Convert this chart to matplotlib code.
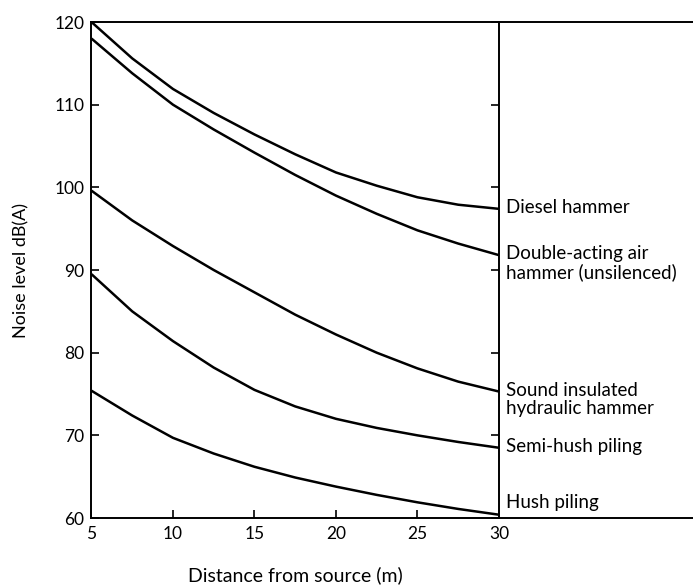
"""Noise level against distance from source for several piling methods."""

import matplotlib.pyplot as plt
from matplotlib.lines import Line2D

plt.rcParams["font.family"] = ["Lato", "DejaVu Sans"]

DISTANCE_M = [5, 7.5, 10, 12.5, 15, 17.5, 20, 22.5, 25, 27.5, 30]
DIESEL = [120, 115.6, 111.9, 109.0, 106.4, 104.0, 101.8, 100.2, 98.8, 97.9, 97.4]
DOUBLE_ACTING = [118, 113.8, 110.0, 107.0, 104.2, 101.5, 99.0, 96.8, 94.8, 93.2, 91.8]
SOUND_INSULATED = [99.6, 96.0, 92.9, 90.0, 87.3, 84.6, 82.2, 80.0, 78.1, 76.5, 75.3]
SEMI_HUSH = [89.5, 85.0, 81.4, 78.2, 75.5, 73.5, 72.0, 70.9, 70.0, 69.2, 68.5]
HUSH = [75.4, 72.4, 69.7, 67.8, 66.2, 64.9, 63.8, 62.8, 61.9, 61.1, 60.4]

SERIES = [
    ("Diesel hammer", DIESEL),
    ("Double-acting air\nhammer (unsilenced)", DOUBLE_ACTING),
    ("Sound insulated\nhydraulic hammer", SOUND_INSULATED),
    ("Semi-hush piling", SEMI_HUSH),
    ("Hush piling", HUSH),
]
# vertical offset (points) of the label top from the curve end
LABEL_DY = [7, 7, 7, 7, 15]

X_TICKS = [5, 10, 15, 20, 25, 30]
Y_TICKS = [60, 70, 80, 90, 100, 110, 120]

fig = plt.figure(figsize=(6.93, 5.87), dpi=100)
ax = fig.add_axes([0.132, 0.1175, 0.588, 0.845])

for (label, values), dy in zip(SERIES, LABEL_DY):
    ax.plot(DISTANCE_M, values, color="black", linewidth=1.8, solid_capstyle="butt")
    ax.annotate(
        label,
        xy=(DISTANCE_M[-1], values[-1]),
        xytext=(5, dy),
        textcoords="offset points",
        ha="left",
        va="top",
        fontsize=13.5,
        linespacing=1.05,
        annotation_clip=False,
    )

ax.set_xlim(5, 30)
ax.set_ylim(60, 120)
ax.set_xticks(X_TICKS)
ax.set_yticks(Y_TICKS)
ax.tick_params(direction="in", length=6, width=1.2, labelsize=12.5, right=True, pad=5)
ax.tick_params(axis="x", pad=6)
for spine in ax.spines.values():
    spine.set_linewidth(1.4)

# top and bottom rules run on to the right edge of the figure
for y in (0, 1):
    ax.add_line(
        Line2D([1, 1.48], [y, y], transform=ax.transAxes, color="black",
               linewidth=1.4, clip_on=False)
    )

ax.set_xlabel("Distance from source (m)", fontsize=14, labelpad=17)
ax.set_ylabel("Noise level dB(A)", fontsize=13, labelpad=18)

fig.savefig("out.png", dpi=100)
